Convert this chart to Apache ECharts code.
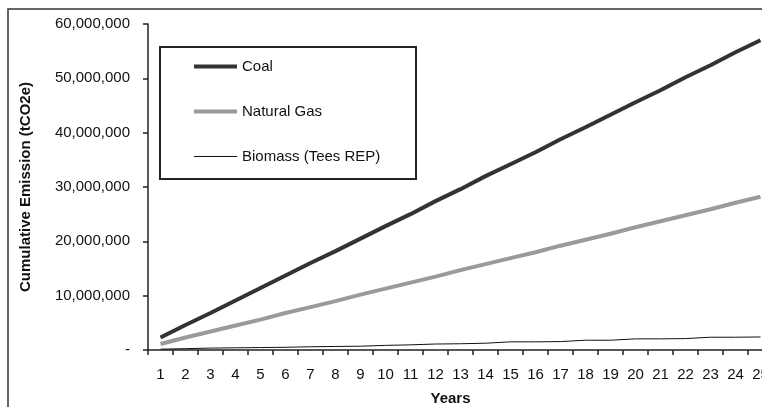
<!DOCTYPE html>
<html>
<head>
<meta charset="utf-8">
<script src="https://cdn.jsdelivr.net/npm/echarts@6/dist/echarts.min.js"></script>
<style>
html,body{margin:0;padding:0;background:#fff;}
#chart{width:762px;height:407px;}
</style>
</head>
<body>
<div id="chart"></div>
<script>
const years = ['1','2','3','4','5','6','7','8','9','10','11','12','13','14','15','16','17','18','19','20','21','22','23','24','25'];
const coal = [2300000,4600000,6800000,9100000,11400000,13700000,16000000,18200000,20500000,22800000,25000000,27400000,29600000,32000000,34200000,36400000,38800000,41000000,43300000,45600000,47800000,50200000,52400000,54800000,57000000];
const naturalGas = [1100000,2300000,3400000,4500000,5600000,6800000,7900000,9000000,10200000,11300000,12400000,13500000,14700000,15800000,16900000,18000000,19200000,20300000,21400000,22600000,23700000,24800000,25900000,27100000,28200000];
const biomass = [150000,250000,350000,400000,450000,500000,600000,650000,700000,850000,950000,1100000,1150000,1250000,1500000,1500000,1550000,1800000,1800000,2050000,2050000,2100000,2350000,2350000,2400000];
const yTicks = {min:0, max:60000000, interval:10000000};

const chart = echarts.init(document.getElementById('chart'));
const font = 'Liberation Sans, Arial, sans-serif';
chart.setOption({
  animation:false,
  backgroundColor:'#fff',
  graphic:[
    {type:'rect', shape:{x:8,y:9,width:900,height:500}, style:{fill:'none',stroke:'#333',lineWidth:1.5}, z:0},
    {type:'rect', shape:{x:160,y:47,width:256,height:132}, style:{fill:'#fff',stroke:'#222',lineWidth:2}, z:5}
  ],
  grid:{left:148, top:24, width:625, height:326, containLabel:false, outerBoundsMode:'none'},
  legend:{
    orient:'vertical', left:189, top:54, itemWidth:43, itemHeight:14, itemGap:30, z:10,
    textStyle:{fontFamily:font, fontSize:15, color:'#111'},
    data:[
      {name:'Coal', icon:'path://M0,0 L43,0 L43,4 L0,4 Z'},
      {name:'Natural Gas', icon:'path://M0,0 L43,0 L43,4 L0,4 Z'},
      {name:'Biomass (Tees REP)', icon:'path://M0,0 L43,0 L43,1.2 L0,1.2 Z'}
    ]
  },
  xAxis:{
    type:'category', data:years, boundaryGap:true,
    name:'Years', nameLocation:'middle', nameGap:41,
    nameTextStyle:{fontFamily:font, fontSize:15, fontWeight:'bold', color:'#111', padding:[0,20,0,0]},
    axisLine:{lineStyle:{color:'#222', width:1.5}},
    axisTick:{show:true, inside:false, length:5, alignWithLabel:false, lineStyle:{color:'#222', width:1.5}},
    axisLabel:{interval:0, margin:17, fontFamily:font, fontSize:15, color:'#111'},
    splitLine:{show:false}
  },
  yAxis:{
    type:'value', min:yTicks.min, max:yTicks.max, interval:yTicks.interval,
    name:'Cumulative Emission (tCO2e)', nameLocation:'middle', nameGap:115,
    nameTextStyle:{fontFamily:font, fontSize:15, fontWeight:'bold', color:'#111'},
    axisLine:{show:true, lineStyle:{color:'#222', width:1.5}},
    axisTick:{show:true, inside:false, length:5, lineStyle:{color:'#222', width:1.5}},
    axisLabel:{margin:18, fontFamily:font, fontSize:15, color:'#111',
      formatter:function(v){ return v===0 ? '-' : v.toLocaleString('en-US'); }},
    splitLine:{show:false}
  },
  series:[
    {name:'Coal', type:'line', data:coal, symbol:'none', lineStyle:{color:'#333', width:4}, itemStyle:{color:'#333'}, z:3},
    {name:'Natural Gas', type:'line', data:naturalGas, symbol:'none', lineStyle:{color:'#9a9a9a', width:4}, itemStyle:{color:'#9a9a9a'}, z:2},
    {name:'Biomass (Tees REP)', type:'line', data:biomass, symbol:'none', lineStyle:{color:'#111', width:1}, itemStyle:{color:'#111'}, z:2}
  ]
});
</script>
</body>
</html>
